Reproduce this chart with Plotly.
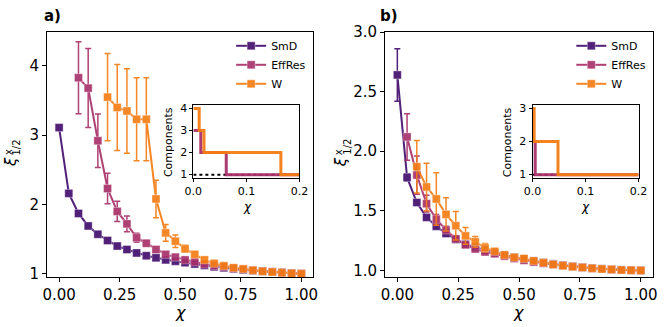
import plotly.graph_objects as go

# chi grid shared by both panels
chi = [0.00, 0.04, 0.08, 0.12, 0.16, 0.20, 0.24, 0.28, 0.32, 0.36, 0.40, 0.44, 0.48,
       0.52, 0.56, 0.60, 0.64, 0.68, 0.72, 0.76, 0.80, 0.84, 0.88, 0.92, 0.96, 1.00]

# panel a)
a_smd = [3.11, 2.16, 1.87, 1.69, 1.57, 1.48, 1.40, 1.35, 1.30, 1.26, 1.23, 1.20, 1.18,
         1.16, 1.14, 1.12, 1.10, 1.085, 1.07, 1.055, 1.045, 1.035, 1.025, 1.015, 1.007, 1.00]
a_smd_err = [0.01, 0.01, 0.01, 0.01, 0.01, 0.01, 0.01, 0.01, 0.01, 0.01, 0.01, 0.01, 0.01,
             0.01, 0.01, 0.01, 0.005, 0.005, 0.005, 0.005, 0.005, 0.005, 0.0, 0.0, 0.0, 0.0]
a_effres = [None, None, 3.83, 3.68, 2.92, 2.23, 1.90, 1.72, 1.52, 1.44, 1.35, 1.28, 1.24,
            1.20, 1.17, 1.14, 1.12, 1.10, 1.08, 1.065, 1.05, 1.04, 1.03, 1.02, 1.01, 1.00]
a_effres_err = [0, 0, 0.52, 0.57, 0.385, 0.22, 0.145, 0.115, 0.065, 0.04, 0.025, 0.02, 0.015,
                0.01, 0.01, 0.01, 0.005, 0.005, 0.005, 0.005, 0.0, 0.0, 0.0, 0.0, 0.0, 0.0]
a_w = [None, None, None, None, None, 3.55, 3.40, 3.35, 3.23, 3.23, 2.08, 1.59, 1.47,
       1.36, 1.28, 1.20, 1.15, 1.115, 1.086, 1.07, 1.05, 1.035, 1.025, 1.015, 1.005, 1.00]
a_w_err = [0, 0, 0, 0, 0, 0.63, 0.62, 0.61, 0.60, 0.60, 0.27, 0.12, 0.09,
           0.05, 0.03, 0.02, 0.015, 0.01, 0.01, 0.005, 0.005, 0.0, 0.0, 0.0, 0.0, 0.0]

# panel b)
b_smd = [2.64, 1.78, 1.57, 1.445, 1.37, 1.31, 1.26, 1.22, 1.195, 1.17, 1.15, 1.13, 1.11,
         1.095, 1.08, 1.065, 1.055, 1.045, 1.035, 1.027, 1.02, 1.014, 1.009, 1.005, 1.002, 1.00]
b_smd_err = [0.22, 0.03, 0.02, 0.015, 0.01, 0.01, 0.01, 0.01, 0.005, 0.005, 0.005, 0.005, 0.005,
             0.0, 0.0, 0.0, 0.0, 0.0, 0.0, 0.0, 0.0, 0.0, 0.0, 0.0, 0.0, 0.0]
b_effres = [None, 2.12, 1.80, 1.56, 1.43, 1.34, 1.265, 1.215, 1.18, 1.155, 1.14, 1.12, 1.10,
            1.085, 1.07, 1.06, 1.05, 1.04, 1.032, 1.025, 1.018, 1.012, 1.008, 1.004, 1.002, 1.00]
b_effres_err = [0, 0.195, 0.16, 0.07, 0.04, 0.03, 0.02, 0.015, 0.01, 0.01, 0.005, 0.005, 0.005,
                0.0, 0.0, 0.0, 0.0, 0.0, 0.0, 0.0, 0.0, 0.0, 0.0, 0.0, 0.0, 0.0]
b_w = [None, None, 1.87, 1.70, 1.60, 1.47, 1.375, 1.29, 1.24, 1.19, 1.16, 1.13, 1.11,
       1.10, 1.08, 1.065, 1.05, 1.04, 1.032, 1.025, 1.018, 1.012, 1.008, 1.004, 1.002, 1.00]
b_w_err = [0, 0, 0.22, 0.20, 0.22, 0.14, 0.12, 0.07, 0.045, 0.035, 0.02, 0.015, 0.01,
           0.01, 0.005, 0.005, 0.0, 0.0, 0.0, 0.0, 0.0, 0.0, 0.0, 0.0, 0.0, 0.0]

# insets: number of components vs chi (step changes)
a_in_smd_x, a_in_smd_y = [0.0, 0.2], [1, 1]
a_in_effres_x, a_in_effres_y = [0.0, 0.014, 0.062, 0.2], [3, 2, 1, 1]
a_in_w_x, a_in_w_y = [0.0, 0.011, 0.020, 0.165, 0.2], [4, 3, 2, 1, 1]
b_in_smd_x, b_in_smd_y = [0.0, 0.2], [1, 1]
b_in_effres_x, b_in_effres_y = [0.0, 0.005, 0.2], [2, 1, 1]
b_in_w_x, b_in_w_y = [0.0, 0.003, 0.048, 0.2], [3, 2, 1, 1]

names = ['SmD', 'EffRes', 'W']
colors = ['#440f6e', '#a8316a', '#f57d15']

FONT = 'DejaVu Sans'
W_PX, H_PX = 665, 327
ML, MR, MT, MB = 47, 12.3, 31.7, 49.7

fig = go.Figure()


def add_main(xa, ya, series, errs, legend):
    for name, col, ys, es in zip(names, colors, series, errs):
        fig.add_trace(go.Scatter(
            x=chi, y=ys, name=name, mode='lines+markers',
            xaxis=xa, yaxis=ya, legend=legend,
            line=dict(color=col, width=2),
            marker=dict(symbol='square', size=8, color=col,
                        line=dict(color='rgba(255,255,255,0.35)', width=1)),
            error_y=dict(type='data', array=es, color=col, thickness=1.5, width=3),
            opacity=0.92,
        ))


def add_inset(xa, ya, xs_list, ys_list):
    # SmD dotted black underneath
    fig.add_trace(go.Scatter(x=xs_list[0], y=ys_list[0], mode='lines', xaxis=xa, yaxis=ya,
                             line=dict(color='black', width=2, dash='dot'), showlegend=False))
    for col, xs, ys in zip(colors[1:], xs_list[1:], ys_list[1:]):
        fig.add_trace(go.Scatter(x=xs, y=ys, mode='lines', xaxis=xa, yaxis=ya,
                                 line=dict(color=col, width=3, shape='hv'),
                                 opacity=0.95, showlegend=False))


add_main('x', 'y', [a_smd, a_effres, a_w], [a_smd_err, a_effres_err, a_w_err], 'legend')
add_main('x2', 'y2', [b_smd, b_effres, b_w], [b_smd_err, b_effres_err, b_w_err], 'legend2')
add_inset('x3', 'y3', [a_in_smd_x, a_in_effres_x, a_in_w_x], [a_in_smd_y, a_in_effres_y, a_in_w_y])
add_inset('x4', 'y4', [b_in_smd_x, b_in_effres_x, b_in_w_x], [b_in_smd_y, b_in_effres_y, b_in_w_y])

main_ax = dict(showline=True, mirror=True, linecolor='black', linewidth=1,
               ticks='outside', ticklen=4, tickcolor='black', showgrid=False,
               zeroline=False, automargin=False, tickfont=dict(size=15, color='black'))
inset_ax = dict(showline=True, mirror=True, linecolor='black', linewidth=1,
                ticks='outside', ticklen=3, tickcolor='black', showgrid=False,
                zeroline=False, automargin=False, tickfont=dict(size=11, color='black'))


def px_x(p):
    return (p - ML) / (W_PX - ML - MR)


def px_y(p):
    return (H_PX - MB - p) / (H_PX - MT - MB)


def ann(text, x, y, size, angle=0):
    return dict(text=text, x=px_x(x), y=px_y(y), xref='paper', yref='paper',
                xanchor='center', yanchor='middle', showarrow=False, textangle=angle,
                borderpad=0, font=dict(size=size, color='black', family=FONT))


annotations = [
    ann('<b>a)</b>', 52, 16, 15), ann('<b>b)</b>', 389, 16, 15),
    ann('<i>χ</i>', 180, 313, 16), ann('<i>χ</i>', 518, 313, 16),
    ann('<i>χ</i>', 247, 207, 12), ann('<i>χ</i>', 585, 207, 12),
    ann('Components', 168, 142, 11, -90), ann('Components', 507, 142, 11, -90),
]
for xo in (0, 330):
    annotations += [ann('<i>ξ</i>', 11 + xo, 162, 15, -90),
                    ann('x', 8 + xo, 152, 10, -90),
                    ann('1/2', 16.5 + xo, 147, 10, -90)]

fig.update_layout(
    width=W_PX, height=H_PX,
    margin=dict(l=ML, r=MR, t=MT, b=MB),
    plot_bgcolor='white', paper_bgcolor='white',
    font=dict(family=FONT, color='black'),
    xaxis=dict(main_ax, domain=[0, px_x(313.3)], range=[-0.05, 1.05],
               tickvals=[0, 0.25, 0.5, 0.75, 1.0], ticktext=['0.00', '0.25', '0.50', '0.75', '1.00'],
               anchor='y'),
    yaxis=dict(main_ax, domain=[0, 1], range=[0.953, 4.49], tickvals=[1, 2, 3, 4], anchor='x'),
    xaxis2=dict(main_ax, domain=[px_x(385), 1], range=[-0.05, 1.05],
                tickvals=[0, 0.25, 0.5, 0.75, 1.0], ticktext=['0.00', '0.25', '0.50', '0.75', '1.00'],
                anchor='y2'),
    yaxis2=dict(main_ax, domain=[0, 1], range=[0.945, 3.0],
                tickvals=[1.0, 1.5, 2.0, 2.5, 3.0], ticktext=['1.0', '1.5', '2.0', '2.5', '3.0'],
                anchor='x2'),
    xaxis3=dict(inset_ax, domain=[px_x(193.3), px_x(299.3)], range=[0, 0.2],
                tickvals=[0, 0.1, 0.2], ticktext=['0.0', '0.1', '0.2'], anchor='y3'),
    yaxis3=dict(inset_ax, domain=[px_y(178), px_y(105)], range=[0.85, 4.15],
                tickvals=[1, 2, 3, 4], anchor='x3'),
    xaxis4=dict(inset_ax, domain=[px_x(532.3), px_x(638.3)], range=[0, 0.2],
                tickvals=[0, 0.1, 0.2], ticktext=['0.0', '0.1', '0.2'], anchor='y4'),
    yaxis4=dict(inset_ax, domain=[px_y(178), px_y(105)], range=[0.9, 3.1],
                tickvals=[1, 2, 3], anchor='x4'),
    legend=dict(x=px_x(311), xanchor='right', y=px_y(31), yanchor='top',
                bgcolor='rgba(255,255,255,0)', font=dict(size=11), tracegroupgap=0),
    legend2=dict(x=px_x(651), xanchor='right', y=px_y(31), yanchor='top',
                 bgcolor='rgba(255,255,255,0)', font=dict(size=11), tracegroupgap=0),
    annotations=annotations,
)

# page body has a default 8px margin; drop it so the figure sits at the window corner
fig.write_html("out.html", config={'displayModeBar': False},
               post_script="document.body.style.margin='0px';")
